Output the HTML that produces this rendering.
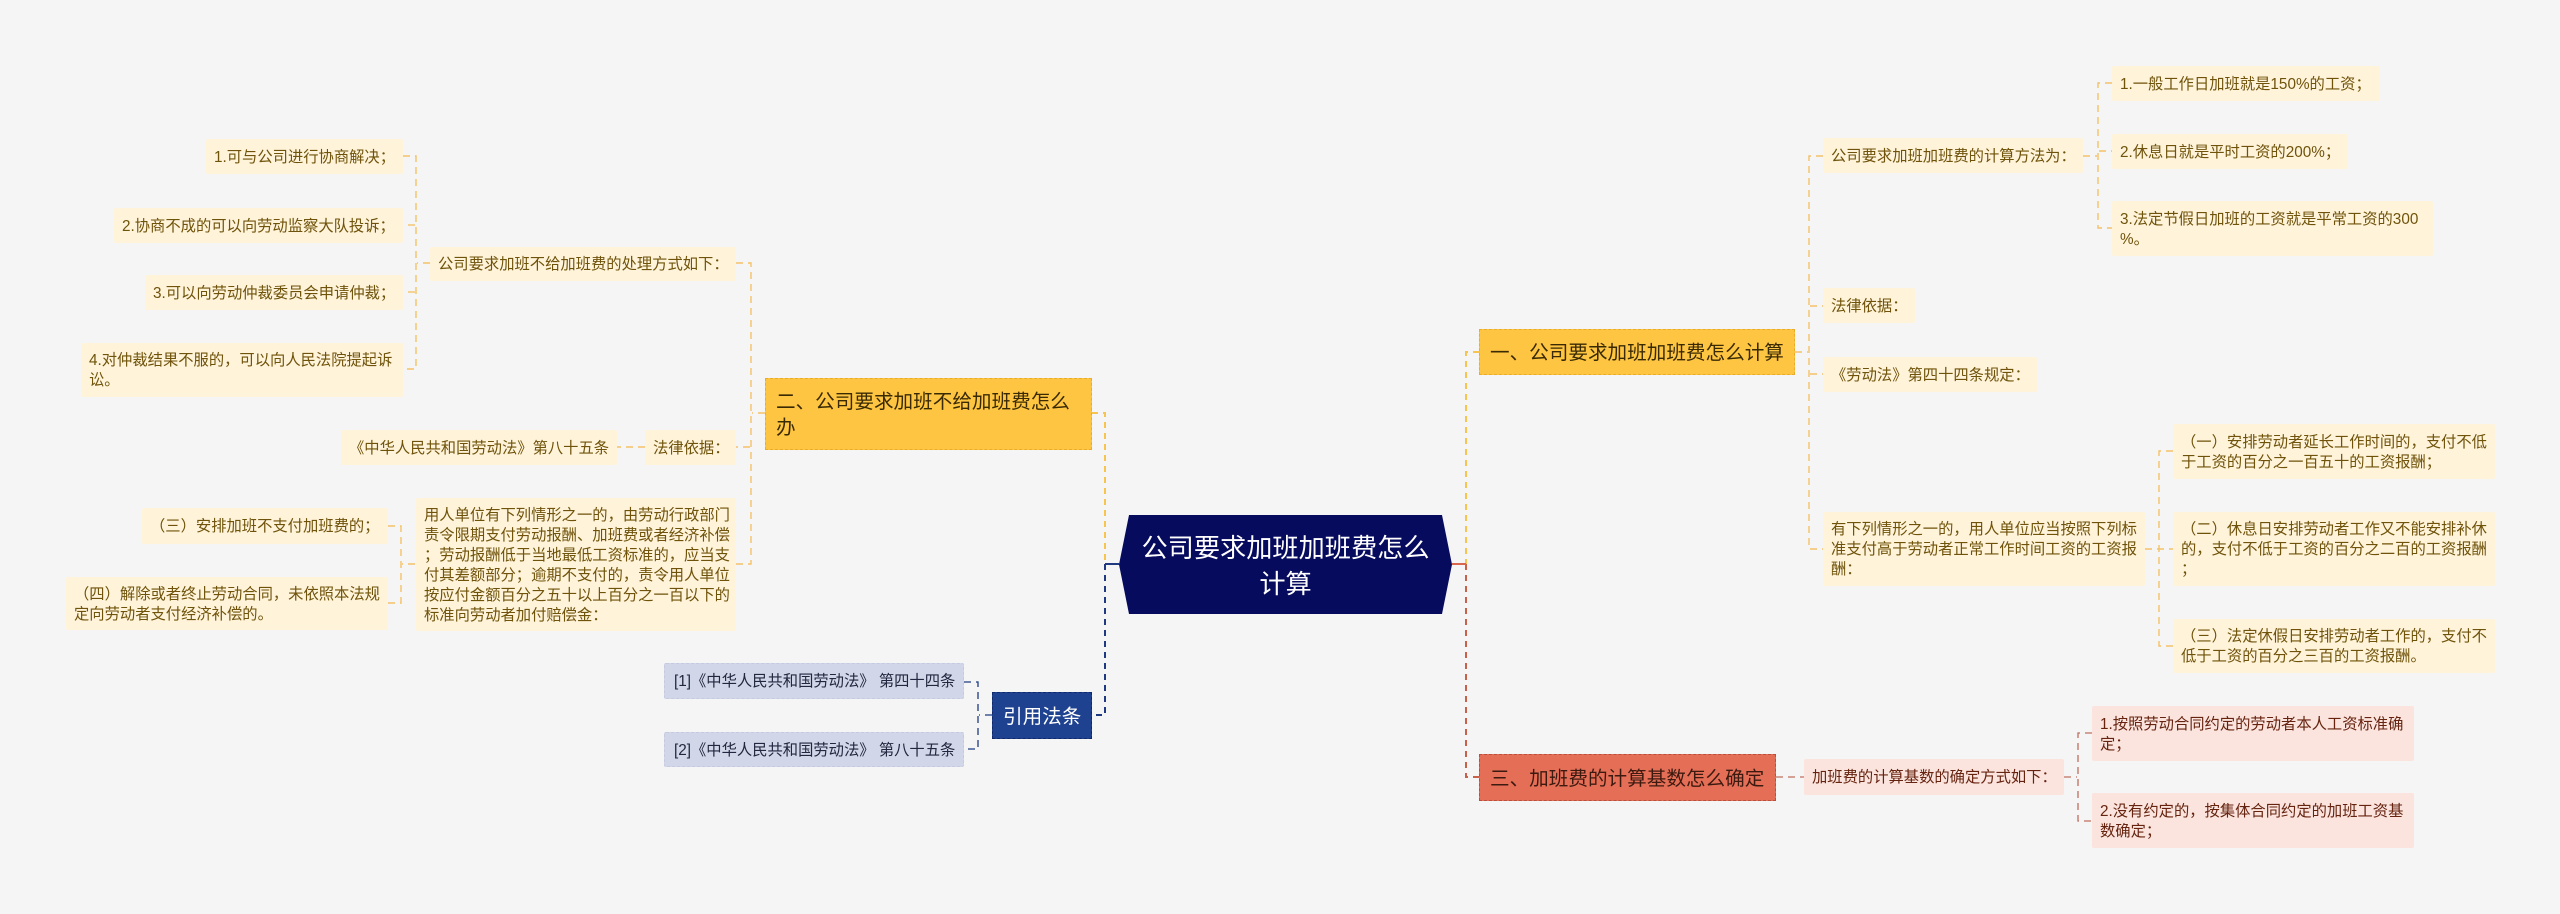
<!DOCTYPE html>
<html lang="zh"><head><meta charset="utf-8"><style>
html,body{margin:0;padding:0}
body{width:2560px;height:914px;overflow:hidden;background:#f5f5f5;position:relative;font-family:"Liberation Sans","Noto Sans CJK SC",sans-serif}
svg{position:absolute;left:0;top:0}
.n{position:absolute;box-sizing:border-box;display:flex;align-items:center;white-space:nowrap;font-size:15.3px;line-height:20px;padding-left:8px;padding-top:2px;border-radius:2px}
.y{background:#fff3d9;color:#6f530b}
.r{background:#fbe4de;color:#66230f}
.b{background:#d1d7e8;color:#22263f;border:1px dashed #c4cbe0}
.m{font-size:19.6px;line-height:26px;padding-left:10px;border-radius:0}
.my{background:#fec542;color:#3a2a04;border:1px dashed #e9ad2a}
</style></head><body>
<svg width="2560" height="914" fill="none">
<g stroke="#f6c550" stroke-width="2" stroke-dasharray="6 5">
<path d="M1092 413H1105V564"/><path d="M1479 352H1466V564"/>
</g>
<g stroke="#1f3a80" stroke-width="2" stroke-dasharray="6 5">
<path d="M1105 564V715H1092"/>
</g>
<path d="M1105 564H1119" stroke="#1f3a80" stroke-width="2"/>
<g stroke="#c9604a" stroke-width="2" stroke-dasharray="6 5">
<path d="M1466 564V777H1479"/>
</g>
<path d="M1452 564H1466" stroke="#d9674f" stroke-width="2"/>
<g stroke="#f3c266" stroke-width="1.4" stroke-dasharray="7 5">
<path d="M736 263H751V564H736"/><path d="M765 413H752"/><path d="M750 447H736"/>
<path d="M403 156H416V369H403"/><path d="M415 225H403"/><path d="M415 292H403"/><path d="M430 263H417"/>
<path d="M645 447H617"/>
<path d="M388 526H401V603H388"/><path d="M415 564H402"/>
<path d="M1795 352H1808"/><path d="M1823 156H1809V549H1823"/><path d="M1810 306H1823"/><path d="M1810 374H1823"/>
<path d="M2112 83H2098V228H2112"/><path d="M2083 156H2097"/><path d="M2099 151H2112"/>
<path d="M2173 451H2159V646H2173"/><path d="M2145 549H2173"/>
</g>
<g stroke="#1f3a80" stroke-width="1.3" stroke-dasharray="7 5">
<path d="M964 682H978V749H964"/><path d="M992 715H979"/>
</g>
<g stroke="#bf6f5e" stroke-width="1.3" stroke-dasharray="7 5">
<path d="M1776 777H1804"/>
<path d="M2092 733H2078V821H2092"/><path d="M2064 777H2077"/>
</g>
<polygon points="1119,564.5 1129,515 1442,515 1452,564.5 1442,614 1129,614" fill="#060b5e"/>
<text x="1285.5" y="557" fill="#fff" font-size="26.2" text-anchor="middle" font-family="'Liberation Sans','Noto Sans CJK SC',sans-serif">公司要求加班加班费怎么</text>
<text x="1285.5" y="593" fill="#fff" font-size="26.2" text-anchor="middle" font-family="'Liberation Sans','Noto Sans CJK SC',sans-serif">计算</text>
</svg>

<div class="n m my" style="left:765px;top:378px;width:327px;height:72px">二、公司要求加班不给加班费怎么<br>办</div>
<div class="n y" style="left:206px;top:139px;width:197px;height:35px">1.可与公司进行协商解决；</div>
<div class="n y" style="left:114px;top:208px;width:289px;height:35px">2.协商不成的可以向劳动监察大队投诉；</div>
<div class="n y" style="left:145px;top:275px;width:258px;height:35px">3.可以向劳动仲裁委员会申请仲裁；</div>
<div class="n y" style="left:81px;top:343px;width:322px;height:54px">4.对仲裁结果不服的，可以向人民法院提起诉<br>讼。</div>
<div class="n y" style="left:430px;top:247px;width:306px;height:34px">公司要求加班不给加班费的处理方式如下：</div>
<div class="n y" style="left:645px;top:430px;width:91px;height:35px">法律依据：</div>
<div class="n y" style="left:341px;top:430px;width:276px;height:35px">《中华人民共和国劳动法》第八十五条</div>
<div class="n y" style="left:416px;top:498px;width:320px;height:133px">用人单位有下列情形之一的，由劳动行政部门<br>责令限期支付劳动报酬、加班费或者经济补偿<br>；劳动报酬低于当地最低工资标准的，应当支<br>付其差额部分；逾期不支付的，责令用人单位<br>按应付金额百分之五十以上百分之一百以下的<br>标准向劳动者加付赔偿金：</div>
<div class="n y" style="left:142px;top:508px;width:246px;height:36px">（三）安排加班不支付加班费的；</div>
<div class="n y" style="left:66px;top:577px;width:322px;height:53px">（四）解除或者终止劳动合同，未依照本法规<br>定向劳动者支付经济补偿的。</div>

<div class="n m" style="left:992px;top:692px;width:100px;height:47px;background:#1f4290;color:#fff;border:1px dashed #11296a">引用法条</div>
<div class="n b" style="left:664px;top:663px;width:300px;height:36px;padding-left:9px">[1]《中华人民共和国劳动法》 第四十四条</div>
<div class="n b" style="left:664px;top:732px;width:300px;height:35px;padding-left:9px">[2]《中华人民共和国劳动法》 第八十五条</div>

<div class="n m my" style="left:1479px;top:329px;width:316px;height:46px">一、公司要求加班加班费怎么计算</div>
<div class="n y" style="left:1823px;top:138px;width:260px;height:35px">公司要求加班加班费的计算方法为：</div>
<div class="n y" style="left:1823px;top:288px;width:92px;height:35px">法律依据：</div>
<div class="n y" style="left:1823px;top:357px;width:214px;height:35px">《劳动法》第四十四条规定：</div>
<div class="n y" style="left:1823px;top:512px;width:322px;height:74px">有下列情形之一的，用人单位应当按照下列标<br>准支付高于劳动者正常工作时间工资的工资报<br>酬：</div>
<div class="n y" style="left:2112px;top:66px;width:268px;height:35px">1.一般工作日加班就是150%的工资；</div>
<div class="n y" style="left:2112px;top:134px;width:236px;height:35px">2.休息日就是平时工资的200%；</div>
<div class="n y" style="left:2112px;top:201px;width:321px;height:55px">3.法定节假日加班的工资就是平常工资的300<br>%。</div>
<div class="n y" style="left:2173px;top:424px;width:322px;height:55px">（一）安排劳动者延长工作时间的，支付不低<br>于工资的百分之一百五十的工资报酬；</div>
<div class="n y" style="left:2173px;top:512px;width:322px;height:74px">（二）休息日安排劳动者工作又不能安排补休<br>的，支付不低于工资的百分之二百的工资报酬<br>；</div>
<div class="n y" style="left:2173px;top:619px;width:322px;height:54px">（三）法定休假日安排劳动者工作的，支付不<br>低于工资的百分之三百的工资报酬。</div>

<div class="n m" style="left:1479px;top:754px;width:297px;height:47px;background:#e46e56;color:#3d1a10;border:1px dashed #b9503c">三、加班费的计算基数怎么确定</div>
<div class="n r" style="left:1804px;top:759px;width:260px;height:36px">加班费的计算基数的确定方式如下：</div>
<div class="n r" style="left:2092px;top:706px;width:322px;height:55px">1.按照劳动合同约定的劳动者本人工资标准确<br>定；</div>
<div class="n r" style="left:2092px;top:793px;width:322px;height:55px">2.没有约定的，按集体合同约定的加班工资基<br>数确定；</div>
</body></html>
